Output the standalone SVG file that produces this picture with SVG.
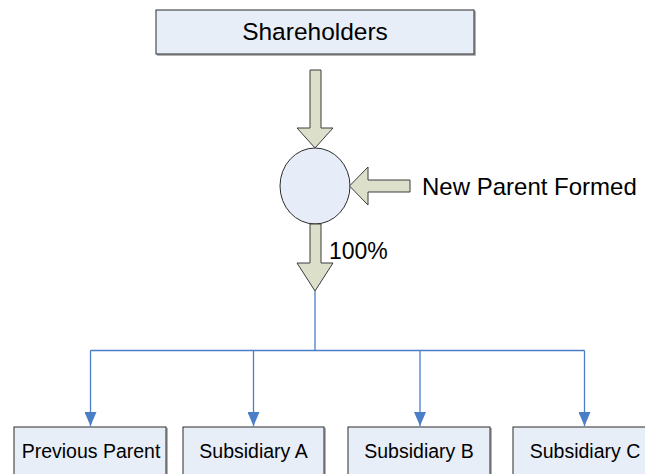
<svg xmlns="http://www.w3.org/2000/svg" width="645" height="474" viewBox="0 0 645 474">
  <defs>
    <style>
      .box { fill: #E8EEF7; stroke: #2b2b2b; stroke-width: 1; }
      .shadow { fill: none; stroke: #9a9a9a; stroke-width: 1.5; }
      .label { font-family: "Liberation Sans", Arial, sans-serif; fill: #000; }
      .block { fill: #DCDFC9; stroke: #3c3c3c; stroke-width: 1; stroke-linejoin: miter; }
      .link { fill: none; stroke: #4A7EC7; stroke-width: 1.3; }
    </style>
    <marker id="tri" viewBox="0 0 14 12" refX="14" refY="6" markerWidth="14" markerHeight="12" markerUnits="userSpaceOnUse" orient="auto">
      <path d="M0,0 L14,6 L0,12 Z" fill="#4A7EC7"/>
    </marker>
  </defs>

  <rect width="645" height="474" fill="#ffffff"/>

  <g id="shareholders">
    <path class="shadow" d="M475,11 V55 H157"/>
    <rect class="box" x="156" y="10" width="318" height="44"/>
    <text class="label" x="315" y="39.5" font-size="24.5" text-anchor="middle">Shareholders</text>
  </g>

  <g id="new-parent">
    <ellipse cx="315" cy="186" rx="35" ry="38" fill="#E6EDF8" stroke="#2b2b2b" stroke-width="1"/>
  </g>

  <g id="new-parent-label">
    <text class="label" x="422" y="195" font-size="24">New Parent Formed</text>
  </g>

  <g id="flows">
    <!-- shareholders into the new parent -->
    <path class="block" d="M310,70 H321 V128 H333 L315,148 L297,128 H310 Z"/>
    <!-- formation arrow from the right -->
    <path class="block" d="M410,180 V192 H368 V205 L349.5,186 L368,167 V180 Z"/>
    <!-- 100% ownership downwards -->
    <path class="block" d="M310,224 H321 V263 H333 L315,291 L297,263 H310 Z"/>
    <text class="label" x="329" y="259" font-size="23">100%</text>
  </g>

  <g id="connectors">
    <path class="link" d="M315,291 V350.5"/>
    <path class="link" d="M90.5,350.5 H584.5"/>
    <path class="link" d="M90.5,350.5 V426" marker-end="url(#tri)"/>
    <path class="link" d="M253.5,350.5 V426" marker-end="url(#tri)"/>
    <path class="link" d="M420,350.5 V426" marker-end="url(#tri)"/>
    <path class="link" d="M584.5,350.5 V426" marker-end="url(#tri)"/>
  </g>

  <g id="previous-parent">
    <path class="shadow" d="M167,428 V480"/>
    <rect class="box" x="14" y="427" width="152" height="52"/>
    <text class="label" x="91" y="458" font-size="19.5" text-anchor="middle">Previous Parent</text>
  </g>

  <g id="subsidiary-a">
    <path class="shadow" d="M325,428 V480"/>
    <rect class="box" x="183" y="427" width="141" height="52"/>
    <text class="label" x="253.5" y="458" font-size="19.5" text-anchor="middle">Subsidiary A</text>
  </g>

  <g id="subsidiary-b">
    <path class="shadow" d="M491,428 V480"/>
    <rect class="box" x="348" y="427" width="142" height="52"/>
    <text class="label" x="419" y="458" font-size="19.5" text-anchor="middle">Subsidiary B</text>
  </g>

  <g id="subsidiary-c">
    <rect class="box" x="513" y="427" width="142" height="52"/>
    <text class="label" x="585" y="458" font-size="19.5" text-anchor="middle">Subsidiary C</text>
  </g>
</svg>
